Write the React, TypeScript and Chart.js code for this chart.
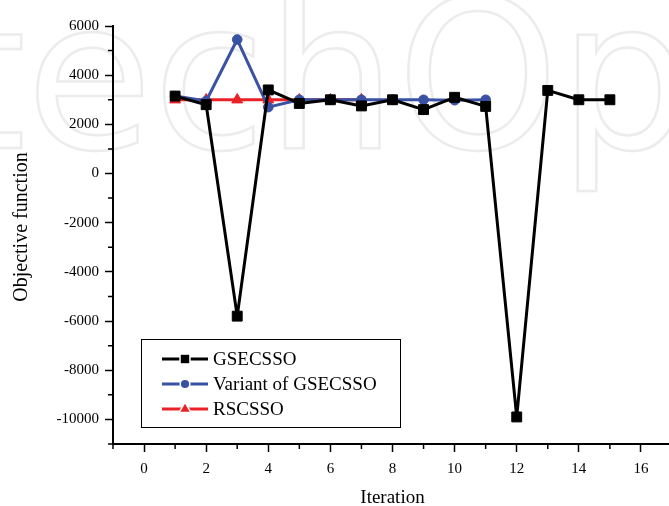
import React, { useEffect, useRef } from "react";
import { Chart, registerables } from "chart.js";

Chart.register(...registerables);

// ---- data ----
const seriesNames = ["GSECSSO", "Variant of GSECSSO", "RSCSSO"];
const gsecssoIter = [1, 2, 3, 4, 5, 6, 7, 8, 9, 10, 11, 12, 13, 14, 15];
const gsecssoValues = [3150, 2800, -5800, 3400, 2850, 3000, 2750, 3000, 2600, 3100, 2730, -9900, 3380, 3000, 3000];
const variantIter = [1, 2, 3, 4, 5, 6, 7, 8, 9, 10, 11];
const variantValues = [3150, 2950, 5450, 2700, 3000, 3000, 3000, 3000, 3000, 2980, 3000];
const rscssoIter = [1, 2, 3, 4, 5, 6, 7];
const rscssoValues = [3000, 3000, 3000, 3000, 3000, 3000, 3000];

const xTickLabels = [0, 2, 4, 6, 8, 10, 12, 14, 16];
const xMinorTicks = [-1, 1, 3, 5, 7, 9, 11, 13, 15, 17];
const yTickLabels = [-10000, -8000, -6000, -4000, -2000, 0, 2000, 4000, 6000];
const yMinorTicks = [-11000, -9000, -7000, -5000, -3000, -1000, 1000, 3000, 5000];

const xTitle = "Iteration";
const yTitle = "Objective function";
const watermark = "IntechOpen";

const COLORS = ["#000000", "#3a52a3", "#ea2227"];
const STYLES = ["rect", "circle", "triangle"];
const RADII = [7, 4.8, 6.3];
const FONT = '"Liberation Serif", "Times New Roman", serif';

const toPoints = (xs: number[], ys: number[]) => xs.map((x, i) => ({ x, y: ys[i] }));

function markerPath(ctx: CanvasRenderingContext2D, style: string, x: number, y: number, r: number) {
  ctx.beginPath();
  if (style === "rect") {
    const s = Math.SQRT1_2 * r;
    ctx.rect(x - s, y - s, 2 * s, 2 * s);
  } else if (style === "circle") {
    ctx.arc(x, y, r, 0, Math.PI * 2);
  } else {
    let a = 0;
    ctx.moveTo(x + Math.sin(a) * r, y - Math.cos(a) * r);
    a += (2 * Math.PI) / 3;
    ctx.lineTo(x + Math.sin(a) * r, y - Math.cos(a) * r);
    a += (2 * Math.PI) / 3;
    ctx.lineTo(x + Math.sin(a) * r, y - Math.cos(a) * r);
    ctx.closePath();
  }
}

const watermarkPlugin = {
  id: "watermark",
  beforeDraw(chart: any) {
    const ctx: CanvasRenderingContext2D = chart.ctx;
    ctx.save();
    let size = 200;
    const fam = '"DejaVu Sans", sans-serif';
    ctx.font = `${size}px ${fam}`;
    const w = ctx.measureText("echO").width;
    size = (size * 533) / w;
    ctx.font = `${size}px ${fam}`;
    const pre = ctx.measureText("Int").width;
    ctx.strokeStyle = "#ececec";
    ctx.lineWidth = 2.5;
    ctx.textBaseline = "alphabetic";
    ctx.strokeText(watermark, 26 - pre, 148);
    ctx.restore();
  },
};

const extrasPlugin = {
  id: "extras",
  afterDraw(chart: any) {
    const ctx: CanvasRenderingContext2D = chart.ctx;
    const xs = chart.scales.x;
    const ys = chart.scales.y;
    ctx.save();
    // minor ticks
    ctx.strokeStyle = "#000";
    ctx.lineWidth = 1.5;
    ctx.beginPath();
    xMinorTicks.forEach((v) => {
      const px = xs.getPixelForValue(v);
      ctx.moveTo(px, xs.top);
      ctx.lineTo(px, xs.top + 5);
    });
    yMinorTicks.forEach((v) => {
      const py = ys.getPixelForValue(v);
      ctx.moveTo(ys.right, py);
      ctx.lineTo(ys.right - 5, py);
    });
    ctx.stroke();
    // y title
    ctx.save();
    ctx.translate(22, (ys.top + ys.bottom) / 2 - 8);
    ctx.rotate(-Math.PI / 2);
    ctx.fillStyle = "#000";
    ctx.font = `20px ${FONT}`;
    ctx.textAlign = "center";
    ctx.textBaseline = "middle";
    ctx.fillText(yTitle, 0, 0);
    ctx.restore();
    ctx.restore();
  },
};

const legendPlugin = {
  id: "customLegend",
  afterDraw(chart: any) {
    const ctx: CanvasRenderingContext2D = chart.ctx;
    const area = chart.chartArea;
    const left = area.left + 28;
    const top = area.top + 313;
    const width = 259;
    const height = 88;
    ctx.save();
    ctx.fillStyle = "#fff";
    ctx.fillRect(left, top, width, height);
    ctx.strokeStyle = "#000";
    ctx.lineWidth = 1;
    ctx.strokeRect(left + 0.5, top + 0.5, width, height);
    chart.data.datasets.forEach((ds: any, i: number) => {
      const y = top + 20 + i * 25;
      const x0 = left + 21;
      const x1 = left + 67;
      ctx.strokeStyle = ds.borderColor;
      ctx.lineWidth = 3;
      ctx.beginPath();
      ctx.moveTo(x0, y);
      ctx.lineTo(x1, y);
      ctx.stroke();
      const r = ds.pointRadius * 0.85;
      markerPath(ctx, ds.pointStyle, (x0 + x1) / 2, y, r);
      ctx.strokeStyle = "#fff";
      ctx.lineWidth = 3;
      ctx.stroke();
      ctx.fillStyle = ds.borderColor;
      ctx.fill();
      ctx.fillStyle = "#000";
      ctx.font = `19px ${FONT}`;
      ctx.textBaseline = "middle";
      ctx.textAlign = "left";
      ctx.fillText(ds.label, x1 + 5, y + 1);
    });
    ctx.restore();
  },
};

export default function App() {
  const ref = useRef<HTMLCanvasElement>(null);

  useEffect(() => {
    if (!ref.current) return;
    const seriesData = [
      toPoints(gsecssoIter, gsecssoValues),
      toPoints(variantIter, variantValues),
      toPoints(rscssoIter, rscssoValues),
    ];
    const chart = new Chart(ref.current, {
      type: "line",
      data: {
        datasets: seriesNames.map((name, i) => ({
          label: name,
          data: seriesData[i],
          borderColor: COLORS[i],
          backgroundColor: COLORS[i],
          pointBackgroundColor: COLORS[i],
          pointBorderColor: COLORS[i],
          pointBorderWidth: 1,
          pointStyle: STYLES[i],
          pointRadius: RADII[i],
          borderWidth: 3,
          borderJoinStyle: "round",
          tension: 0,
          fill: false,
        })),
      },
      options: {
        animation: false,
        responsive: false,
        devicePixelRatio: 1,
        layout: { padding: { top: 26, right: 3, left: 0, bottom: 0 } },
        plugins: { legend: { display: false }, tooltip: { enabled: false } },
        scales: {
          x: {
            type: "linear",
            min: -1,
            max: 17,
            afterFit: (s: any) => {
              s.height = 62;
            },
            afterBuildTicks: (s: any) => {
              s.ticks = xTickLabels.map((v) => ({ value: v }));
            },
            ticks: {
              color: "#000",
              font: { family: FONT, size: 15 },
              padding: 8,
              maxRotation: 0,
              autoSkip: false,
              callback: (v: any) => `${v}`,
            },
            grid: {
              drawOnChartArea: false,
              drawTicks: true,
              tickLength: 8,
              tickWidth: 1.5,
              tickColor: "#000",
            },
            border: { display: true, color: "#000", width: 2 },
            title: {
              display: true,
              text: xTitle,
              color: "#000",
              font: { family: FONT, size: 19, lineHeight: 1 },
              padding: { top: 0, bottom: -2 },
            },
          },
          y: {
            type: "linear",
            min: -11000,
            max: 6000,
            afterFit: (s: any) => {
              s.width = 113;
            },
            afterBuildTicks: (s: any) => {
              s.ticks = yTickLabels.map((v) => ({ value: v }));
            },
            ticks: {
              color: "#000",
              font: { family: FONT, size: 15 },
              padding: 6,
              autoSkip: false,
              callback: (v: any) => `${v}`,
            },
            grid: {
              drawOnChartArea: false,
              drawTicks: true,
              tickLength: 8,
              tickWidth: 1.5,
              tickColor: "#000",
            },
            border: { display: true, color: "#000", width: 2 },
            title: { display: false, text: yTitle },
          },
        },
      },
      plugins: [watermarkPlugin, extrasPlugin, legendPlugin],
    } as any);
    return () => chart.destroy();
  }, []);

  return (
    <div
      style={{
        position: "fixed",
        left: 0,
        top: 0,
        width: 669,
        height: 506,
        overflow: "hidden",
        background: "#fff",
      }}
    >
      <canvas ref={ref} width={680} height={506} style={{ display: "block" }} />
    </div>
  );
}
